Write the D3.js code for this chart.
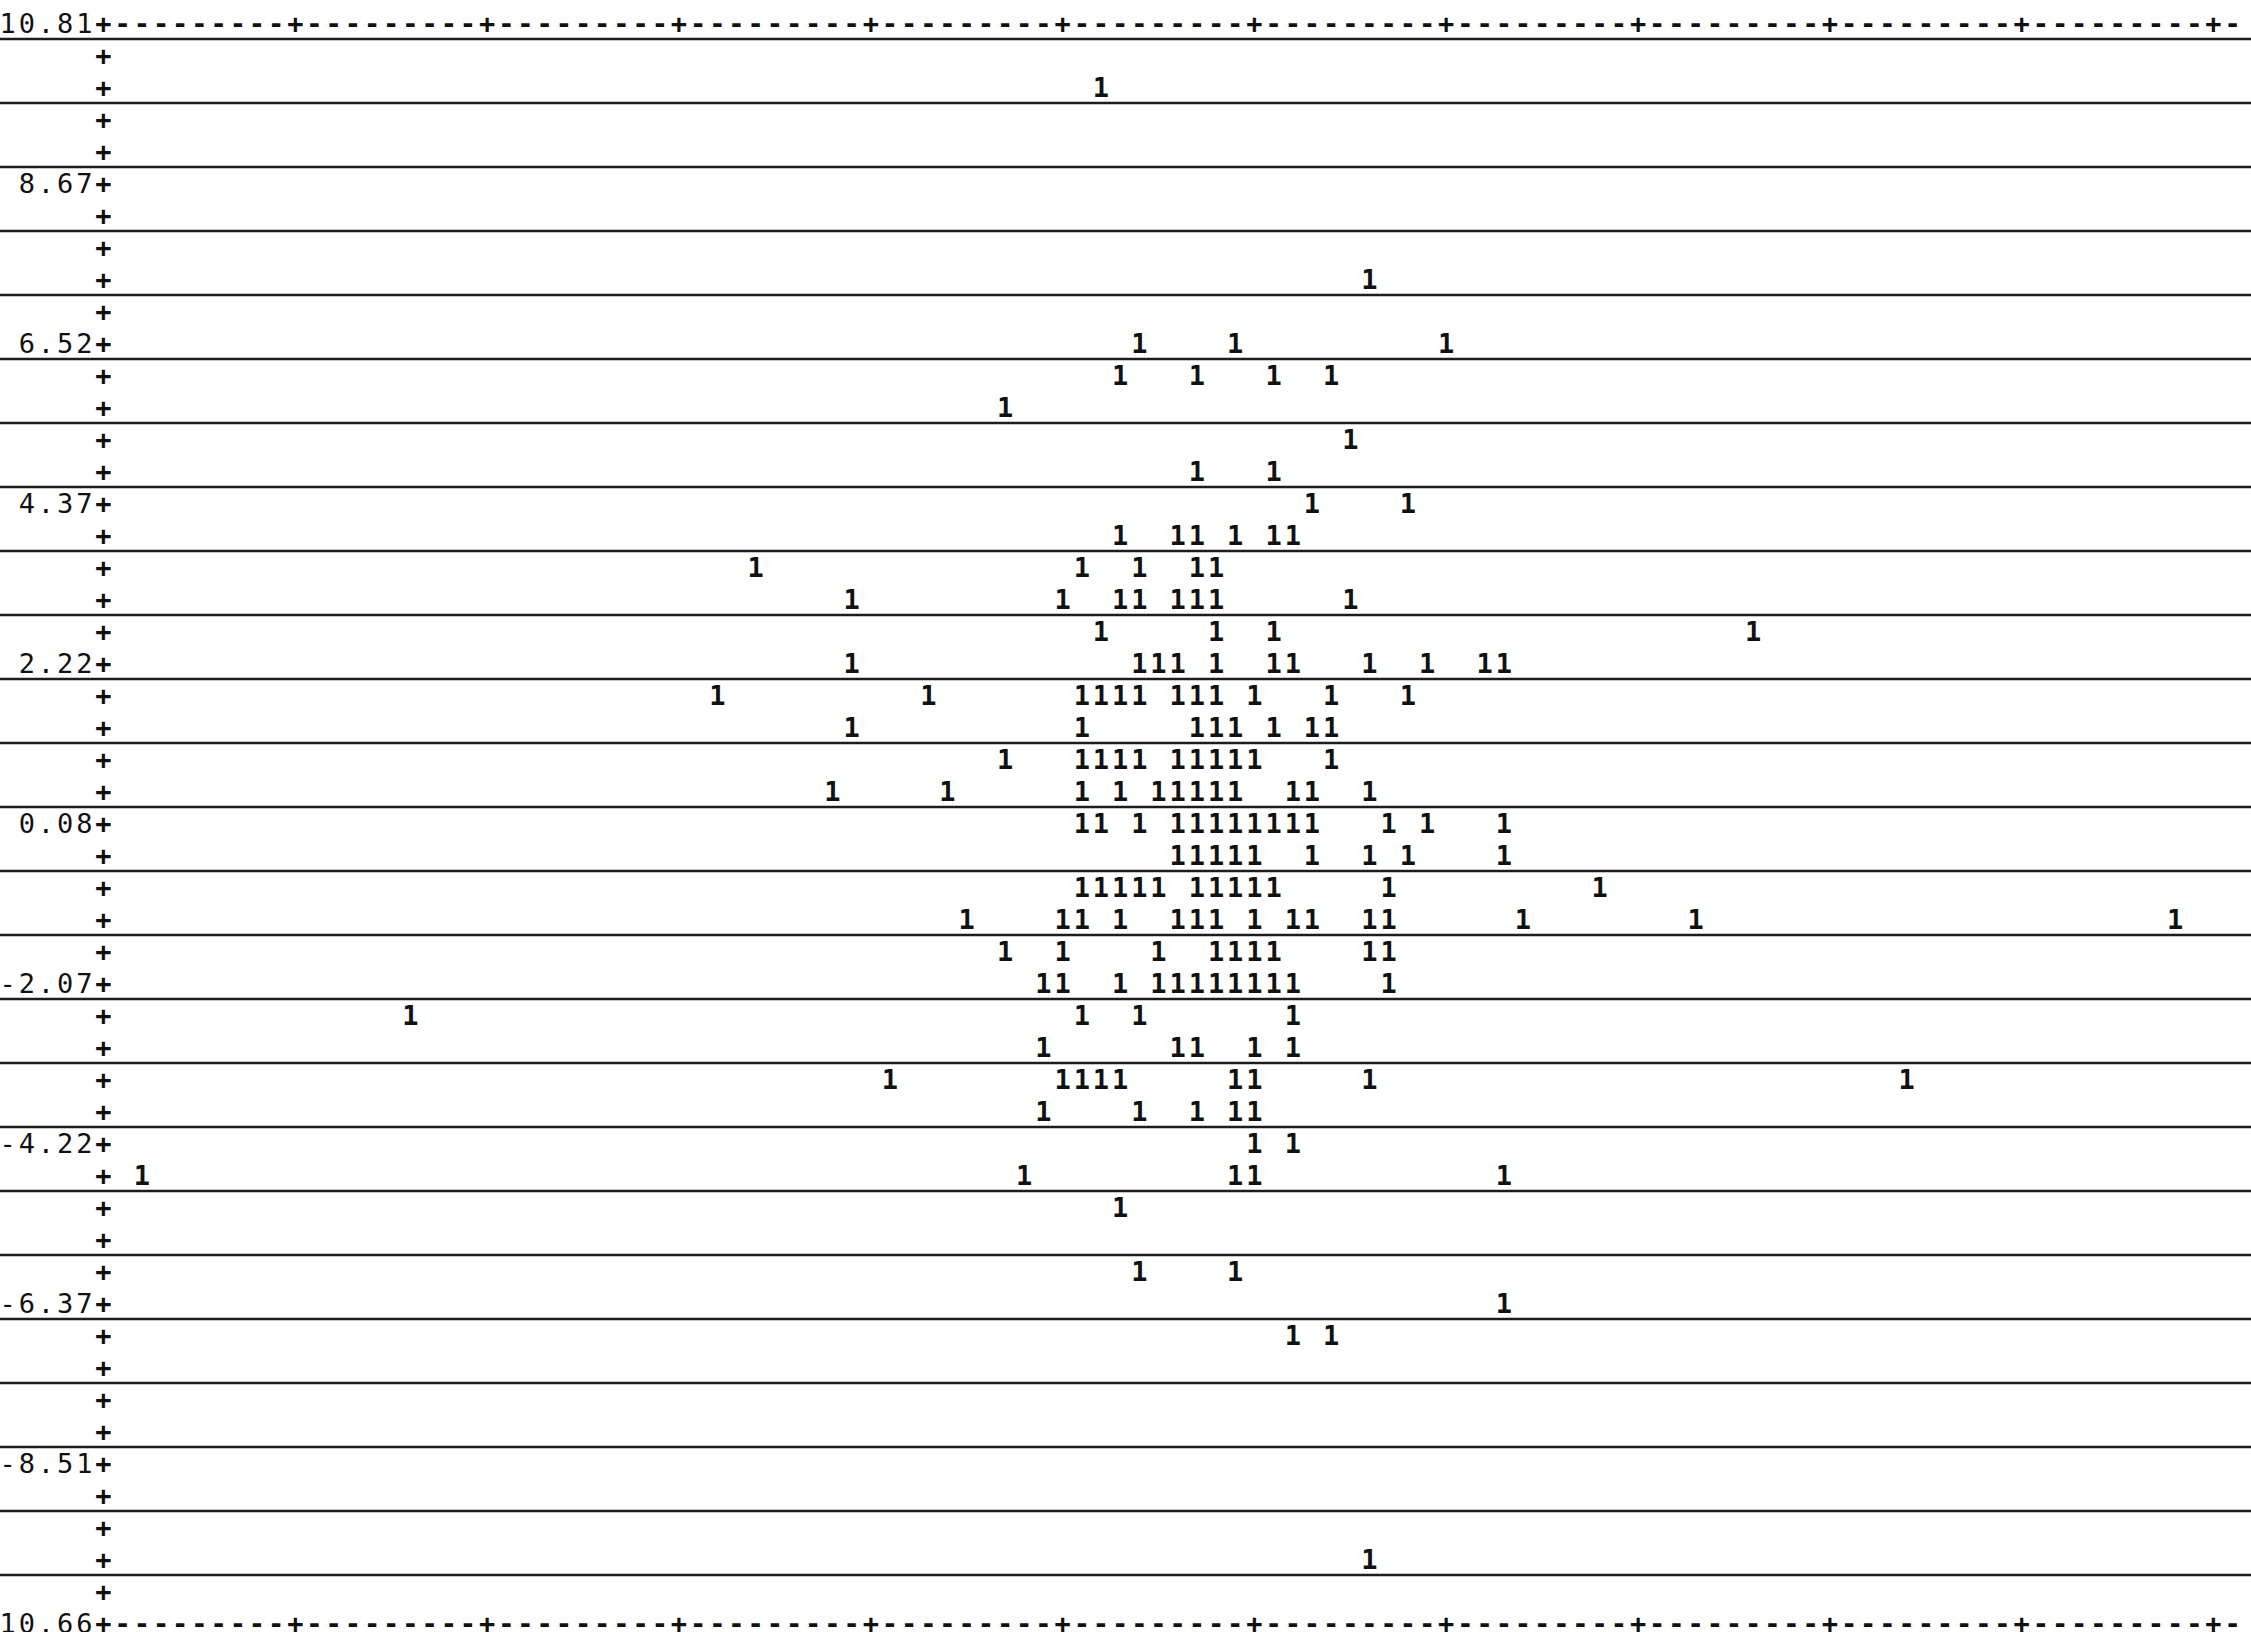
<!DOCTYPE html>
<html><head><meta charset="utf-8">
<script src="https://cdn.jsdelivr.net/npm/d3@7"></script>
<style>html,body{margin:0;padding:0;background:#fff;overflow:hidden}</style>
</head><body>
<svg id="chart" width="2251" height="1632"></svg>
<script>
// ---- data ----
const yTickLabels = ["10.81","8.67","6.52","4.37","2.22","0.08","-2.07","-4.22","-6.37","-8.51","-10.66"];
const yMax = 10.81, yMin = -10.66;
const rowsPerLabel = 5;          // print lines between labelled ticks
const xFirst = 0, xLast = 110;   // plotted x range (print columns)
const xTickEvery = 10;
const xRuleEnd = 111;

// y value of each print line that carries points
const pointY = [9.95, 7.37, 6.52, 6.09, 5.66, 5.23, 4.80, 4.37, 3.94, 3.51, 3.08, 2.65, 2.22,
  1.79, 1.36, 0.93, 0.50, 0.08, -0.35, -0.78, -1.21, -1.64, -2.07, -2.50, -2.93, -3.36,
  -3.79, -4.22, -4.65, -5.08, -5.94, -6.37, -6.80, -9.80];
// x positions of the '1' marks on that line
const pointX = [
  [52],
  [66],
  [54, 59, 70],
  [53, 57, 61, 64],
  [47],
  [65],
  [57, 61],
  [63, 68],
  [53, 56, 57, 59, 61, 62],
  [34, 51, 54, 57, 58],
  [39, 50, 53, 54, 56, 57, 58, 65],
  [52, 58, 61, 86],
  [39, 54, 55, 56, 58, 61, 62, 66, 69, 72, 73],
  [32, 43, 51, 52, 53, 54, 56, 57, 58, 60, 64, 68],
  [39, 51, 57, 58, 59, 61, 63, 64],
  [47, 51, 52, 53, 54, 56, 57, 58, 59, 60, 64],
  [38, 44, 51, 53, 55, 56, 57, 58, 59, 62, 63, 66],
  [51, 52, 54, 56, 57, 58, 59, 60, 61, 62, 63, 67, 69, 73],
  [56, 57, 58, 59, 60, 63, 66, 68, 73],
  [51, 52, 53, 54, 55, 57, 58, 59, 60, 61, 67, 78],
  [45, 50, 51, 53, 56, 57, 58, 60, 62, 63, 66, 67, 74, 83, 108],
  [47, 50, 55, 58, 59, 60, 61, 66, 67],
  [49, 50, 53, 55, 56, 57, 58, 59, 60, 61, 62, 67],
  [16, 51, 54, 62],
  [49, 56, 57, 60, 62],
  [41, 50, 51, 52, 53, 59, 60, 66, 94],
  [49, 54, 57, 59, 60],
  [60, 62],
  [2, 48, 59, 60, 73],
  [53],
  [54, 59],
  [73],
  [62, 64],
  [66]
];

// ---- drawing ----
const W = 2251, H = 1632;
const svg = d3.select("#chart");
const x = d3.scaleLinear().domain([xFirst, xLast]).range([103.5, 2213.5]);
const y = d3.scaleLinear().domain([yMax, yMin]).range([23, 1623]);
const nRows = (yTickLabels.length - 1) * rowsPerLabel;
const rowStep = (yMax - yMin) / nRows;
const rowVals = d3.range(nRows + 1).map(i => yMax - i * rowStep);
const FS = 27, baseOff = 10;
const font = "'DejaVu Sans Mono', 'Liberation Mono', monospace";

svg.append("rect").attr("width", W).attr("height", H).attr("fill", "#fff");

// ruled paper lines, every second print line
const rules = d3.range(0, nRows, 2).map(i => yMax - (i + 0.5) * rowStep);
svg.append("g").selectAll("line").data(rules).join("line")
  .attr("x1", 0).attr("x2", W)
  .attr("y1", d => y(d)).attr("y2", d => y(d))
  .attr("stroke", "#1c1c1c").attr("stroke-width", 2.4);

const colsX = (start, n) => d3.range(n).map(i => x(start + i)).join(" ");

// y axis: '+' on every line, label every fifth line; top & bottom border rows
const axis = svg.append("g").attr("font-family", font).attr("font-size", FS)
  .attr("fill", "#111").attr("text-anchor", "middle");
rowVals.forEach((v, i) => {
  const t = axis.append("text").attr("y", y(v) + baseOff);
  if (i % rowsPerLabel === 0) {
    const lab = yTickLabels[i / rowsPerLabel];
    t.append("tspan").attr("x", colsX(-lab.length, lab.length)).text(lab);
  }
  let s = "+";
  if (i === 0 || i === nRows) {
    s = d3.range(xFirst, xRuleEnd + 1).map(c => (c % xTickEvery === 0 ? "+" : "-")).join("");
  }
  t.append("tspan").attr("x", colsX(xFirst, s.length)).attr("font-weight", "bold").text(s);
});

// points
const pts = [];
pointY.forEach((v, i) => pointX[i].forEach(c => pts.push([c, v])));
svg.append("g").attr("font-family", font).attr("font-size", FS).attr("font-weight", "bold")
  .attr("fill", "#111").attr("text-anchor", "middle")
  .selectAll("text").data(pts).join("text")
  .attr("x", d => x(d[0])).attr("y", d => y(d[1]) + baseOff).text("1");
</script>
</body></html>
